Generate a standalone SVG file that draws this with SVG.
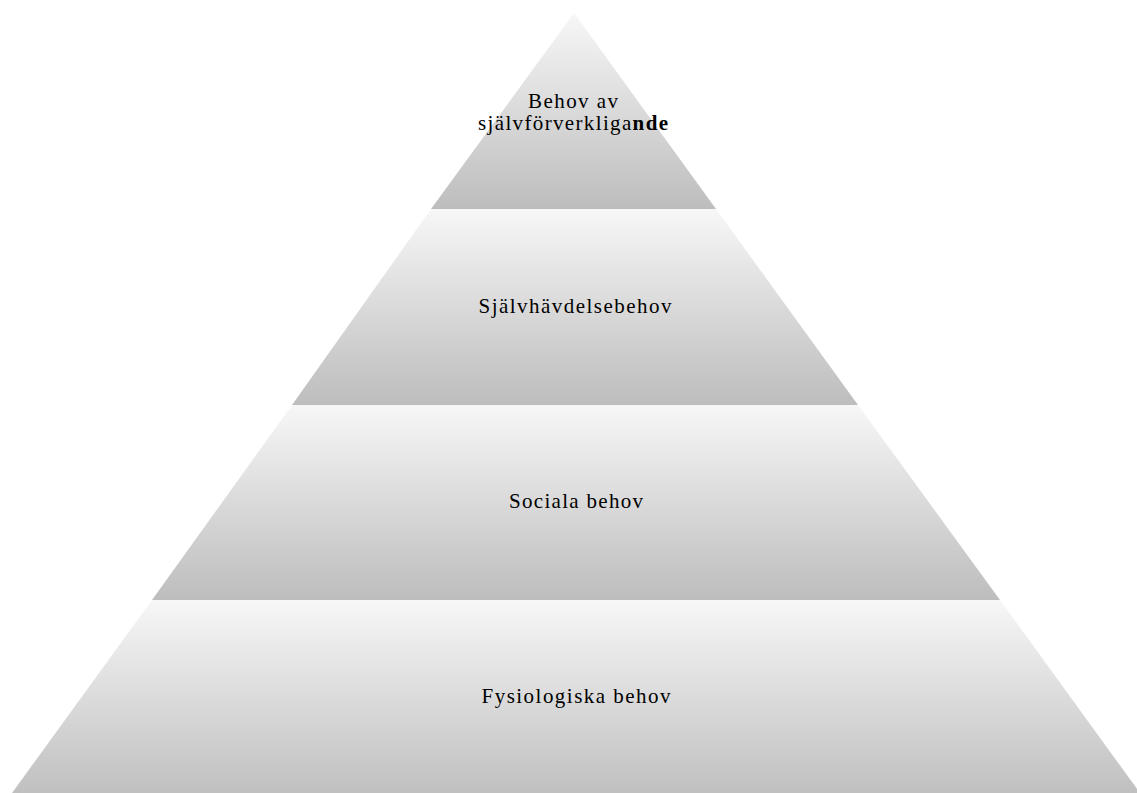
<svg xmlns="http://www.w3.org/2000/svg" width="1137" height="793" viewBox="0 0 1137 793">
<defs>
<linearGradient id="g" x1="0" y1="0" x2="0" y2="1">
<stop offset="0" stop-color="#f7f7f7"/>
<stop offset="1" stop-color="#bdbdbd"/>
</linearGradient>
<linearGradient id="gb" x1="0" y1="0" x2="0" y2="1">
<stop offset="0" stop-color="#f7f7f7"/>
<stop offset="1" stop-color="#c0c0c0"/>
</linearGradient>
</defs>
<style>
.band{fill:url(#g);stroke:none}
.t{font-family:'Liberation Serif',Tinos,'Times New Roman',serif;font-size:21px;fill:#000;text-anchor:middle}
</style>
<rect width="1137" height="793" fill="#ffffff"/>
<g id="level1">
<polygon class="band" points="574,13 716,209 431,209"/>
<text class="t" x="573" y="108" textLength="90" lengthAdjust="spacing">Behov av</text>
<text class="t" x="573" y="130" textLength="190" lengthAdjust="spacing">självförverkliga<tspan font-weight="bold">nde</tspan></text>
</g>
<g id="level2">
<polygon class="band" points="431,209 716,209 858,405 292,405"/>
<text class="t" x="575" y="313" textLength="193" lengthAdjust="spacing">Självhävdelsebehov</text>
</g>
<g id="level3">
<polygon class="band" points="292,405 858,405 1000,600 152,600"/>
<text class="t" x="576" y="508" textLength="134" lengthAdjust="spacing">Sociala behov</text>
</g>
<g id="level4">
<polygon points="152,600 1000,600 1140,793 12,793" fill="url(#gb)"/>
<text class="t" x="576" y="703" textLength="189" lengthAdjust="spacing">Fysiologiska behov</text>
</g>
<g id="connectors"></g>
</svg>
